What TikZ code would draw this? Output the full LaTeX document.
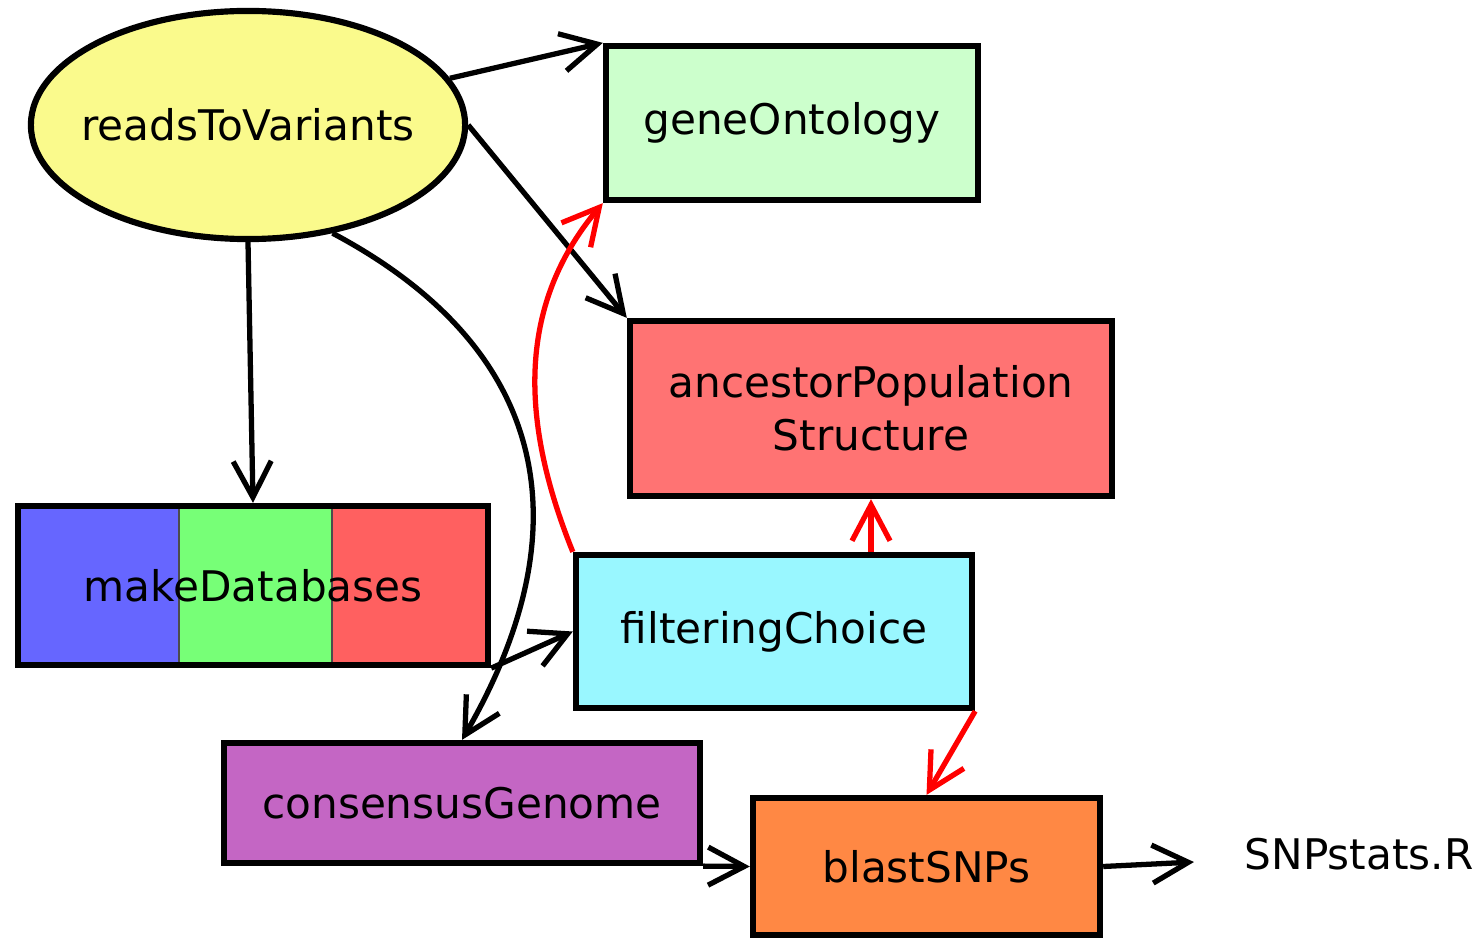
\documentclass[tikz,border=0pt]{standalone}
\usepackage{fontspec}
\setmainfont{DejaVu Sans}
\usetikzlibrary{arrows.meta,shapes.geometric}
\definecolor{rtvfill}{HTML}{FAFA8C}
\definecolor{gofill}{HTML}{CCFFCC}
\definecolor{apsfill}{HTML}{FF7373}
\definecolor{fcfill}{HTML}{99F7FF}
\definecolor{cgfill}{HTML}{C466C4}
\definecolor{bsfill}{HTML}{FF8844}
\definecolor{mdbblue}{HTML}{6666FF}
\definecolor{mdbgreen}{HTML}{77FF77}
\definecolor{mdbred}{HTML}{FF6060}
\tikzset{
  job/.style={draw, line width=1.75pt, inner sep=0pt, align=center,
    font=\fontsize{12}{15}\selectfont},
  flow/.style={-{Straight Barb[length=3.6mm, width=3.8mm]}, line width=1.5pt},
  redflow/.style={flow, red}
}
\begin{document}
\begin{tikzpicture}[x=0.01cm, y=-0.01cm]
  \useasboundingbox (0,0) rectangle (1483,949);

  % Benzi colorate pentru makeDatabases
  \filldraw[mdbblue, draw=black!70, line width=0.3pt] (18,506) rectangle (179,665);
  \filldraw[mdbgreen, draw=black!70, line width=0.3pt] (179,506) rectangle (332,665);
  \filldraw[mdbred, draw=black!70, line width=0.3pt] (332,506) rectangle (488,665);

  % Noduri
  \node[job, ellipse, fill=rtvfill, inner xsep=-0.3cm, minimum width=4.34cm, minimum height=2.28cm]
    (rtv) at (248,125) {readsToVariants};
  \node[job, fill=gofill, minimum width=3.72cm, minimum height=1.54cm]
    (go) at (792,123) {geneOntology};
  \node[job, fill=apsfill, minimum width=4.82cm, minimum height=1.75cm]
    (aps) at (871,408.5) {ancestorPopulation\\Structure};
  \node[job, minimum width=4.70cm, minimum height=1.59cm]
    (mdb) at (253,585.5) {makeDatabases};
  \node[job, fill=fcfill, minimum width=3.96cm, minimum height=1.53cm]
    (fc) at (774,631.5) {filteringChoice};
  \node[job, fill=cgfill, minimum width=4.76cm, minimum height=1.20cm]
    (cg) at (462,803) {consensusGenome};
  \node[job, fill=bsfill, minimum width=3.47cm, minimum height=1.37cm]
    (bs) at (926.5,866.5) {blastSNPs};
  \node[font=\fontsize{12}{15}\selectfont, inner sep=0.5cm]
    (snp) at (1359,854) {SNPstats.R};

  % Sageti negre
  \draw[flow] (rtv) -- (go.north west);
  \draw[flow] (rtv.east) -- (aps.north west);
  \draw[flow] (rtv.south) -- (mdb.north);
  \draw[flow] (rtv.-52) to[out=-28, in=60, looseness=1.2] (cg.north);
  \draw[flow] (mdb.south east) -- (fc.west);
  \draw[flow] (cg.south east) -- (bs.west);
  \draw[flow] (bs.east) -- ([yshift=-0.08cm]snp.west);

  % Sageti rosii
  \draw[redflow] (fc.north west) to[out=112, in=230] (go.south west);
  \draw[redflow] (aps.south |- fc.north) -- (aps.south);
  \draw[redflow] (fc.south east) -- (bs.north);
\end{tikzpicture}
\end{document}
